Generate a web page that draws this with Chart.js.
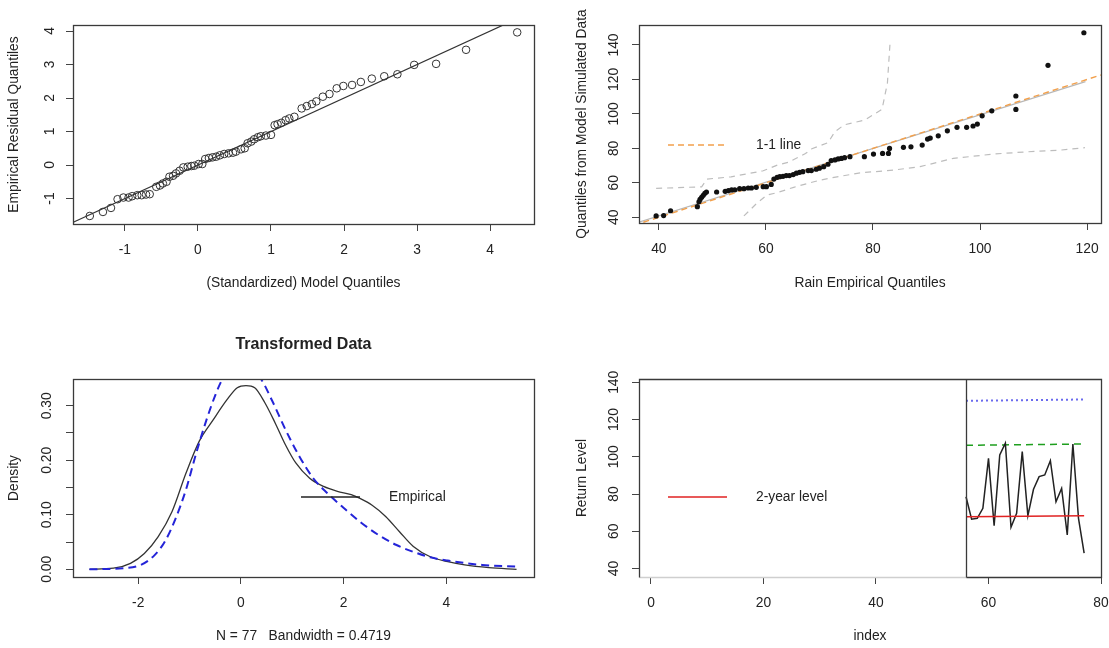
<!DOCTYPE html>
<html>
<head>
<meta charset="utf-8">
<script src="https://cdn.jsdelivr.net/npm/chart.js@4.4.1/dist/chart.umd.min.js"></script>
<style>
  html, body { margin: 0; padding: 0; background: #fff; }
  #page { position: relative; width: 1109px; height: 648px; overflow: hidden; }
  #page canvas { position: absolute; }
</style>
</head>
<body>
<div id="page">
  <canvas id="qqResid" width="554" height="324" style="left:0;top:0"></canvas>
  <canvas id="qqRain" width="555" height="324" style="left:554px;top:0"></canvas>
  <canvas id="density" width="554" height="324" style="left:0;top:324px"></canvas>
  <canvas id="levels" width="555" height="324" style="left:554px;top:324px"></canvas>
</div>
<script>
// --- top left: residual quantile plot ---
const resModelQ = [-1.48, -1.30, -1.19, -1.10, -1.02, -0.95, -0.90, -0.83, -0.77, -0.71,
  -0.66, -0.57, -0.52, -0.48, -0.43, -0.39, -0.34, -0.30, -0.25, -0.20,
  -0.14, -0.09, -0.05, 0.01, 0.06, 0.10, 0.15, 0.20, 0.25, 0.30,
  0.36, 0.42, 0.48, 0.52, 0.59, 0.64, 0.68, 0.73, 0.77, 0.82,
  0.86, 0.93, 1.00, 1.05, 1.09, 1.14, 1.20, 1.25, 1.32, 1.42,
  1.49, 1.56, 1.62, 1.71, 1.80, 1.90, 1.99, 2.11, 2.23, 2.38,
  2.55, 2.73, 2.96, 3.26, 3.67, 4.37];
const resEmpQ = [-1.52, -1.40, -1.28, -1.02, -0.97, -0.97, -0.93, -0.90, -0.90, -0.88,
  -0.87, -0.65, -0.61, -0.55, -0.50, -0.35, -0.32, -0.25, -0.17, -0.07,
  -0.05, -0.03, -0.02, 0.03, 0.03, 0.18, 0.21, 0.23, 0.25, 0.29,
  0.33, 0.35, 0.37, 0.40, 0.47, 0.50, 0.65, 0.70, 0.77, 0.83,
  0.86, 0.88, 0.90, 1.19, 1.22, 1.26, 1.34, 1.39, 1.44, 1.69,
  1.76, 1.82, 1.90, 2.04, 2.12, 2.29, 2.36, 2.39, 2.48, 2.58,
  2.65, 2.71, 2.99, 3.02, 3.44, 3.96];
const residLine = [-2, 5];

// --- top right: rain qq plot ---
const rainEmpQ = [39.5, 40.9, 42.2, 47.2, 47.5, 47.7, 48.0, 48.3, 48.6, 48.9,
  50.8, 52.4, 53.0, 53.6, 54.2, 55.1, 55.9, 56.7, 57.3, 58.2,
  59.5, 60.1, 61.0, 61.5, 62.1, 62.6, 63.2, 63.8, 64.4, 65.1,
  65.7, 66.3, 66.9, 67.9, 68.5, 69.4, 70.0, 70.8, 71.6, 72.2,
  72.9, 73.5, 74.1, 74.7, 75.7, 78.4, 80.1, 81.8, 82.9, 83.1,
  85.7, 87.1, 89.2, 90.2, 90.7, 92.2, 93.9, 95.7, 97.5, 98.7,
  99.5, 100.4, 102.2, 106.7, 106.7, 112.7, 119.4];
const rainSimQ = [40.8, 41.0, 43.8, 46.2, 49.0, 50.4, 51.6, 52.8, 53.9, 54.7,
  54.7, 55.1, 55.5, 55.9, 56.0, 56.6, 56.6, 57.0, 57.0, 57.4,
  57.8, 57.8, 59.1, 62.2, 63.2, 63.6, 63.8, 64.2, 64.2, 64.8,
  65.6, 66.1, 66.5, 67.1, 67.1, 67.9, 68.5, 69.4, 70.8, 72.9,
  73.3, 73.9, 74.2, 74.6, 75.2, 75.2, 76.7, 77.1, 77.1, 80.0,
  80.6, 80.9, 81.9, 85.4, 86.0, 87.3, 90.2, 92.2, 92.2, 93.0,
  94.1, 98.9, 101.8, 102.6, 110.4, 128.2, 147.1];
const upperBandX = [39.5, 48.0, 49.0, 53.5, 59.5, 62.2, 64.2, 67.4, 68.6, 71.6, 72.9, 74.6, 78.5, 81.7, 82.7, 83.2];
const upperBandY = [56.8, 57.7, 62.2, 63.5, 67.0, 70.4, 71.9, 77.0, 79.8, 83.3, 89.7, 93.6, 96.5, 102.7, 117.8, 141.4];
const lowerBandX = [55.9, 58.3, 60.2, 62.1, 65.2, 68.3, 70.2, 73.3, 77.6, 83.8, 88.8, 95.0, 102.5, 108.7, 115.0, 119.6];
const lowerBandY = [40.8, 48.1, 52.9, 54.3, 57.4, 60.1, 61.6, 63.5, 65.8, 67.4, 69.4, 74.2, 76.7, 78.0, 79.0, 80.4];
const fitLineX = [36.0, 119.7];
const fitLineY = [36.9, 118.7];
const oneToOne = [30, 130];

// --- bottom left: density of transformed data ---
const empDensX = [-2.95, -2.48, -2.15, -1.88, -1.61, -1.34, -1.07, -0.81, -0.54, -0.27,
  -0.07, 0.10, 0.27, 0.47, 0.67, 0.87, 1.07, 1.34, 1.61, 1.88,
  2.15, 2.32, 2.55, 2.82, 3.09, 3.36, 3.69, 4.03, 4.36, 4.83, 5.37];
const empDensY = [0.000, 0.002, 0.011, 0.029, 0.060, 0.106, 0.176, 0.235, 0.274, 0.311,
  0.333, 0.337, 0.333, 0.305, 0.268, 0.228, 0.195, 0.167, 0.152, 0.143,
  0.137, 0.130, 0.118, 0.097, 0.069, 0.042, 0.023, 0.014, 0.008, 0.003, 0.000];
const modDensX = [-2.95, -2.28, -1.95, -1.68, -1.48, -1.28, -1.07, -0.87, -0.67, -0.47,
  -0.34, 0.00, 0.38, 0.60, 0.87, 1.14, 1.41, 1.68, 2.01, 2.35,
  2.68, 3.02, 3.36, 3.69, 4.03, 4.70, 5.37];
const modDensY = [0.000, 0.002, 0.008, 0.026, 0.051, 0.091, 0.146, 0.213, 0.274, 0.326,
  0.351, 0.368, 0.350, 0.311, 0.256, 0.207, 0.167, 0.140, 0.112, 0.085,
  0.063, 0.045, 0.032, 0.022, 0.016, 0.008, 0.005];

// --- bottom right: return levels ---
const obsIndex = [56, 57, 58, 59, 60, 61, 62, 63, 64, 65, 66, 67, 68, 69, 70, 71, 72, 73, 74, 75, 76, 77];
const obsRain = [78.6, 66.5, 67.0, 72.4, 99.2, 63.1, 101.0, 107.3, 62.2, 69.7, 102.8, 68.4,
  82.6, 89.4, 90.3, 97.9, 75.9, 83.1, 58.1, 106.9, 67.0, 48.3];
const levelIndex = [56, 77];
const level2yr = [67.8, 68.4];
const level20yr = [106.2, 106.9];
const level100yr = [130.1, 130.8];

const FONT = '"Liberation Sans", Arial, sans-serif';
const TXT = '#222';
const TICKCOL = '#444';
Chart.defaults.font.family = FONT;
Chart.defaults.font.size = 13.8;
Chart.defaults.color = TXT;

const pts = (xs, ys) => xs.map((x, i) => ({ x, y: ys[i] }));

function xAxis(o) {
  return {
    type: 'linear', position: 'bottom', bounds: 'data', min: o.min, max: o.max,
    afterBuildTicks: s => { s.ticks = o.ticks.map(v => ({ value: v })); },
    afterFit: s => { s.height = o.height; s.paddingLeft = 0; s.paddingRight = 0; },
    grid: { drawOnChartArea: false, drawTicks: true, tickLength: 7, color: TICKCOL, lineWidth: 1 },
    border: { display: false },
    ticks: { autoSkip: false, maxRotation: 0, padding: 11, color: TXT, callback: o.fmt || (v => String(v)) },
    title: { display: true, text: o.title, color: TXT, padding: { top: 0, bottom: o.titlePad } }
  };
}

function yAxis(o) {
  return {
    type: 'linear', position: 'left', bounds: 'data', min: o.min, max: o.max,
    afterBuildTicks: s => { s.ticks = o.ticks.map(v => ({ value: v })); },
    afterFit: s => { s.width = o.width; s.paddingTop = 0; s.paddingBottom = 0; },
    grid: { drawOnChartArea: false, drawTicks: true, tickLength: 7, color: TICKCOL, lineWidth: 1 },
    border: { display: false },
    ticks: {
      autoSkip: false, minRotation: 90, maxRotation: 90, crossAlign: 'center',
      padding: o.tickPad, color: TXT, callback: o.fmt || (v => String(v))
    },
    title: { display: true, text: o.title, color: TXT, padding: { top: o.titlePad, bottom: 0 } }
  };
}

// box round the plot region (R style)
const framePlugin = {
  id: 'frame',
  afterDraw(chart, args, opts) {
    const { ctx, chartArea: a } = chart;
    const L = Math.round(a.left) + 0.5, R = Math.round(a.right) + 0.5;
    const T = Math.round(a.top) + 0.5, B = Math.round(a.bottom) + 0.5;
    ctx.save();
    ctx.lineWidth = 1.3;
    ctx.strokeStyle = '#3a3a3a';
    if (opts.splitAt === undefined) {
      ctx.strokeRect(L, T, R - L, B - T);
    } else {
      const S = Math.round(chart.scales.x.getPixelForValue(opts.splitAt)) + 0.5;
      ctx.strokeStyle = '#cfcfcf';
      ctx.beginPath(); ctx.moveTo(L, B); ctx.lineTo(S, B); ctx.stroke();
      ctx.strokeStyle = '#3a3a3a';
      ctx.beginPath();
      ctx.moveTo(L, B); ctx.lineTo(L, T); ctx.lineTo(R, T); ctx.lineTo(R, B); ctx.lineTo(S, B);
      ctx.moveTo(S, T); ctx.lineTo(S, B);
      ctx.stroke();
    }
    ctx.restore();
  }
};

// single legend entry drawn inside the plot, no box
const keyPlugin = {
  id: 'key',
  afterDatasetsDraw(chart, args, o) {
    if (!o || !o.text) return;
    const { ctx } = chart;
    ctx.save();
    ctx.strokeStyle = o.color;
    ctx.lineWidth = o.width;
    ctx.setLineDash(o.dash || []);
    ctx.beginPath(); ctx.moveTo(o.x1, o.y); ctx.lineTo(o.x2, o.y); ctx.stroke();
    ctx.setLineDash([]);
    ctx.fillStyle = TXT;
    ctx.font = '13.8px ' + FONT;
    ctx.textBaseline = 'middle';
    ctx.textAlign = 'left';
    ctx.fillText(o.text, o.tx, o.y);
    ctx.restore();
  }
};

function lineSet(data, color, width, dash) {
  return { data, showLine: true, pointRadius: 0, borderColor: color, borderWidth: width,
    borderDash: dash || [], fill: false, clip: 0 };
}

function options(scales, padding, plugins) {
  return {
    responsive: false, animation: false, devicePixelRatio: 1,
    layout: { padding },
    scales,
    plugins: Object.assign({ legend: { display: false }, tooltip: { enabled: false } }, plugins)
  };
}

new Chart(document.getElementById('qqResid'), {
  type: 'scatter',
  data: {
    datasets: [
      { data: pts(resModelQ, resEmpQ), pointRadius: 3.8, pointBorderWidth: 1,
        pointBorderColor: '#333', pointBackgroundColor: 'rgba(0,0,0,0)' },
      lineSet(pts(residLine, residLine), '#333', 1.2)
    ]
  },
  options: options({
    x: xAxis({ min: -1.71, max: 4.60, ticks: [-1, 0, 1, 2, 3, 4], height: 100,
      title: '(Standardized) Model Quantiles', titlePad: 33 }),
    y: yAxis({ min: -1.76, max: 4.18, ticks: [-1, 0, 1, 2, 3, 4], width: 73, tickPad: 10,
      title: 'Empirical Residual Quantiles', titlePad: 6 })
  }, { top: 25, right: 20, left: 0, bottom: 0 }, { frame: {} }),
  plugins: [framePlugin]
});

new Chart(document.getElementById('qqRain'), {
  type: 'scatter',
  data: {
    datasets: [
      { data: pts(rainEmpQ, rainSimQ), pointRadius: 2.6, pointBorderWidth: 0,
        pointBackgroundColor: '#111' },
      lineSet(pts(oneToOne, oneToOne), '#f2a04c', 1.4, [6, 4]),
      lineSet(pts(fitLineX, fitLineY), '#b8b8b8', 1.2),
      lineSet(pts(upperBandX, upperBandY), '#bdbdbd', 1.2, [6, 5]),
      lineSet(pts(lowerBandX, lowerBandY), '#bdbdbd', 1.2, [6, 5])
    ]
  },
  options: options({
    x: xAxis({ min: 36.3, max: 122.6, ticks: [40, 60, 80, 100, 120], height: 101,
      title: 'Rain Empirical Quantiles', titlePad: 33 }),
    y: yAxis({ min: 36.7, max: 151.6, ticks: [40, 60, 80, 100, 120, 140], width: 85, tickPad: 6.5,
      title: 'Quantiles from Model Simulated Data', titlePad: 20 })
  }, { top: 25, right: 8, left: 0, bottom: 0 }, {
    frame: {},
    key: { x1: 114, x2: 171, y: 145, tx: 202, text: '1-1 line', color: '#f2a04c', width: 1.4, dash: [6, 4] }
  }),
  plugins: [framePlugin, keyPlugin]
});

new Chart(document.getElementById('density'), {
  type: 'scatter',
  data: {
    datasets: [
      Object.assign(lineSet(pts(modDensX, modDensY), '#2424d8', 2, [8, 5]), { cubicInterpolationMode: 'monotone' }),
      Object.assign(lineSet(pts(empDensX, empDensY), '#333', 1.3), { cubicInterpolationMode: 'monotone' })
    ]
  },
  options: options({
    x: xAxis({ min: -3.27, max: 5.71, ticks: [-2, 0, 2, 4], height: 71,
      title: 'N = 77   Bandwidth = 0.4719', titlePad: 4 }),
    y: yAxis({ min: -0.0141, max: 0.349, ticks: [0, 0.05, 0.10, 0.15, 0.20, 0.25, 0.30], width: 73, tickPad: 5,
      title: 'Density', titlePad: 6,
      fmt: v => (Math.round(v * 100) % 10 === 0 ? v.toFixed(2) : '') })
  }, { top: 0, right: 20, left: 0, bottom: 0 }, {
    title: { display: true, text: 'Transformed Data', fullSize: false, color: TXT,
      font: { size: 16, weight: 'bold' }, padding: { top: 11.4, bottom: 24.4 } },
    frame: {},
    key: { x1: 301, x2: 360, y: 173, tx: 389, text: 'Empirical', color: '#222', width: 1.3 }
  }),
  plugins: [framePlugin, keyPlugin]
});

new Chart(document.getElementById('levels'), {
  type: 'scatter',
  data: {
    datasets: [
      lineSet(pts(levelIndex, level2yr), '#e02222', 1.5),
      lineSet(pts(obsIndex, obsRain), '#222', 1.5),
      lineSet(pts(levelIndex, level20yr), '#1f9f1f', 1.5, [7, 5]),
      lineSet(pts(levelIndex, level100yr), '#6a6aee', 2, [2, 3])
    ]
  },
  options: options({
    x: xAxis({ min: -2.13, max: 80, ticks: [0, 20, 40, 60, 80], height: 71,
      title: 'index', titlePad: 4 }),
    y: yAxis({ min: 35.5, max: 141.8, ticks: [40, 60, 80, 100, 120, 140], width: 85, tickPad: 6.5,
      title: 'Return Level', titlePad: 20 })
  }, { top: 55, right: 8, left: 0, bottom: 0 }, {
    frame: { splitAt: 56 },
    key: { x1: 114, x2: 173, y: 173, tx: 202, text: '2-year level', color: '#e02222', width: 1.5 }
  }),
  plugins: [framePlugin, keyPlugin]
});
</script>
</body>
</html>
